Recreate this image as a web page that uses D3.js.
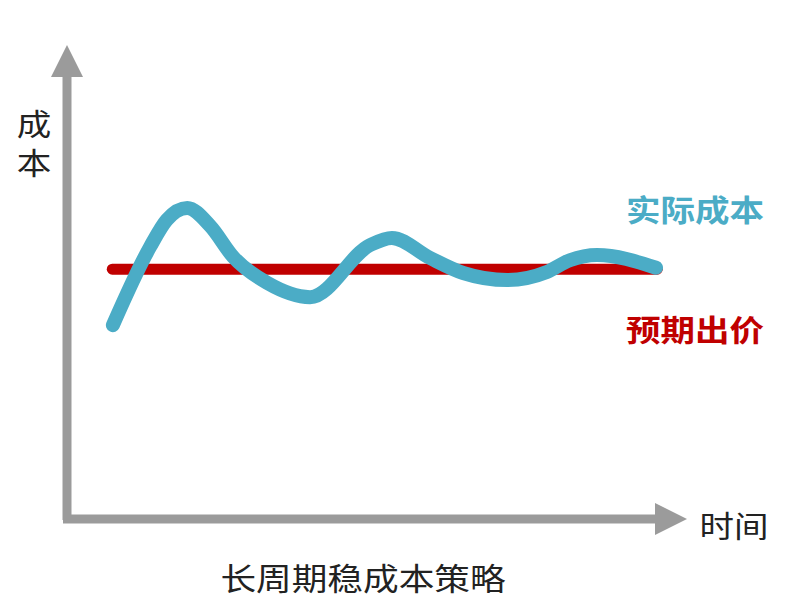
<!DOCTYPE html>
<html>
<head>
<meta charset="utf-8">
<script src="https://cdn.jsdelivr.net/npm/d3@7/dist/d3.min.js"></script>
<style>
  html, body { margin: 0; padding: 0; background: #fff; }
  text { font-family: "Noto Sans CJK SC", "Noto Sans", sans-serif; }
</style>
</head>
<body>
<div id="chart"></div>
<script>
// Time positions (0-100) and cost values (0-100)
var actualTime = [7.4, 13.4, 16.1, 19.4, 23.1, 26.8, 32.3, 39.2, 48.9, 52.4, 58.5, 63.9, 71.0, 77.4, 81.1, 85.5, 95.0];
var actualCost = [40.9, 57.4, 63.1, 65.6, 61.8, 55.3, 49.8, 46.8, 57.8, 59.3, 55.1, 51.9, 50.4, 52.1, 54.6, 55.7, 53.0];
var expectedTime = [7.3, 95.2];
var expectedCost = [52.7, 52.7];

var yAxisLabel = ["成", "本"];
var xAxisLabel = "时间";
var seriesLabels = ["实际成本", "预期出价"];
var title = "长周期稳成本策略";

function init(){
    var w = 806, h = 613;
    var axisColor = "#9b9b9b";
    var blue = "#4bacc6", red = "#c00000";
    var stretch = "scale(1.15,1)"; // the reference glyphs are drawn a bit wide

    var xScale = d3.scaleLinear().domain([0, 100]).range([67, 687]);
    var yScale = d3.scaleLinear().domain([0, 100]).range([519, 45]);

    var svg = d3.select("#chart")
                .append("svg")
                .attr("width", w)
                .attr("height", h);

    var x0 = xScale(0), y0 = yScale(0);
    var xTip = xScale(100), yTip = yScale(100);
    var head = 32, half = 16;

    // Axes: thick grey shafts with arrow heads
    svg.append("line")
        .attr("x1", x0).attr("y1", y0 + 1)
        .attr("x2", x0).attr("y2", yTip + head)
        .attr("stroke", axisColor).attr("stroke-width", 9);
    svg.append("line")
        .attr("x1", x0 - 4).attr("y1", y0)
        .attr("x2", xTip - head).attr("y2", y0)
        .attr("stroke", axisColor).attr("stroke-width", 9);
    svg.append("path")
        .attr("d", "M" + x0 + "," + yTip + "L" + (x0 + half) + "," + (yTip + head) + "L" + (x0 - half) + "," + (yTip + head) + "Z")
        .attr("fill", axisColor);
    svg.append("path")
        .attr("d", "M" + xTip + "," + y0 + "L" + (xTip - head) + "," + (y0 - half) + "L" + (xTip - head) + "," + (y0 + half) + "Z")
        .attr("fill", axisColor);

    var line = d3.line()
        .x(function(d){ return xScale(d[0]); })
        .y(function(d){ return yScale(d[1]); });

    // Expected bid (flat red line)
    svg.append("path")
        .datum(expectedTime.map(function(t, i){ return [t, expectedCost[i]]; }))
        .attr("d", line)
        .attr("fill", "none")
        .attr("stroke", red)
        .attr("stroke-width", 11)
        .attr("stroke-linecap", "round");

    // Actual cost (wavy blue line)
    svg.append("path")
        .datum(actualTime.map(function(t, i){ return [t, actualCost[i]]; }))
        .attr("d", line.curve(d3.curveMonotoneX))
        .attr("fill", "none")
        .attr("stroke", blue)
        .attr("stroke-width", 14)
        .attr("stroke-linecap", "round")
        .attr("stroke-linejoin", "round");

    function label(txt, x, y, size, color, weight){
        svg.append("text")
            .attr("transform", "translate(" + x + "," + y + ") " + stretch)
            .attr("text-anchor", "middle")
            .attr("dominant-baseline", "central")
            .attr("font-size", size)
            .attr("font-weight", weight || "normal")
            .attr("fill", color)
            .text(txt);
    }

    // Y axis label, stacked vertically
    yAxisLabel.forEach(function(c, i){
        label(c, 34, 122 + i * 39, 30, "#222");
    });
    label(xAxisLabel, 734, 524, 30, "#222");
    label(seriesLabels[0], 695, 208, 30, blue, "bold");
    label(seriesLabels[1], 695, 328, 30, red, "bold");
    label(title, 363, 577, 31, "#222");
}
window.onload = init;
</script>
</body>
</html>
